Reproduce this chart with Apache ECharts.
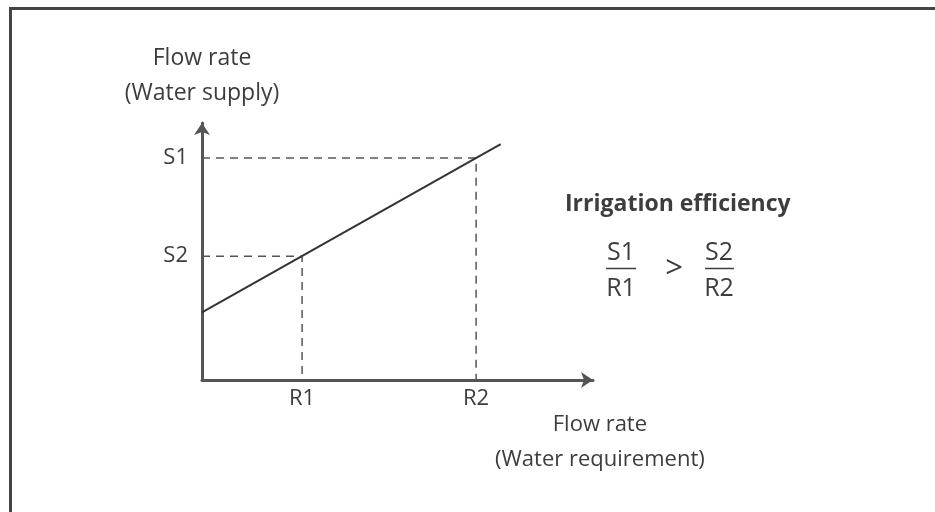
<!DOCTYPE html>
<html>
<head>
<meta charset="utf-8">
<script src="https://cdn.jsdelivr.net/npm/echarts@6/dist/echarts.min.js"></script>
<style>html,body{margin:0;padding:0;background:#fff}#c{width:935px;height:512px}</style>
</head>
<body>
<div id="c"></div>
<script>
// Values (abstract units on 0..100 scales)
var xTickValues = [25.6, 70.1];
var xTickLabels = ['R1', 'R2'];
var yTickValues = [48.2, 86.4];
var yTickLabels = ['S2', 'S1'];
var supplyX = [0, 76.4];
var supplyY = [26.3, 91.8];
var guideS1 = [[0, 86.4], [70.1, 86.4], [70.1, 0]];
var guideS2 = [[0, 48.2], [25.6, 48.2], [25.6, 0]];

var FONT = '"Open Sans", sans-serif';
var TXT = '#3d3d3d';
var AX = '#555555';

function lookup(vals, labels, v) {
  for (var i = 0; i < vals.length; i++) if (Math.abs(vals[i] - v) < 1e-6) return labels[i];
  return '';
}

var chart = echarts.init(document.getElementById('c'), null, {renderer: 'canvas'});
chart.setOption({
  animation: false,
  backgroundColor: '#ffffff',
  textStyle: {fontFamily: FONT},
  grid: {left: 202, top: 123, right: 342, bottom: 132, containLabel: false},
  xAxis: {
    type: 'value', min: 0, max: 100,
    name: 'Flow rate\n(Water requirement)',
    nameLocation: 'end', nameGap: -20,
    nameTextStyle: {fontFamily: FONT, fontSize: 22, color: TXT, align: 'center', verticalAlign: 'top', lineHeight: 35, padding: [27, 16, 0, 0]},
    splitLine: {show: false},
    axisTick: {show: false},
    axisLine: {show: true, lineStyle: {color: AX, width: 3}, symbol: ['none', 'arrow'], symbolSize: [12, 12]},
    axisLabel: {customValues: xTickValues, formatter: function (v) { return lookup(xTickValues, xTickLabels, v); }, fontFamily: FONT, fontSize: 22, color: TXT, margin: 8}
  },
  yAxis: {
    type: 'value', min: 0, max: 100,
    name: 'Flow rate\n(Water supply)',
    nameLocation: 'end', nameGap: 12,
    nameTextStyle: {fontFamily: FONT, fontSize: 23, color: TXT, align: 'center', lineHeight: 35},
    splitLine: {show: false},
    axisTick: {show: false},
    axisLine: {show: true, lineStyle: {color: AX, width: 3}, symbol: ['none', 'arrow'], symbolSize: [12, 12]},
    axisLabel: {customValues: yTickValues, formatter: function (v) { return lookup(yTickValues, yTickLabels, v); }, fontFamily: FONT, fontSize: 22, color: TXT, margin: 14}
  },
  series: [
    {type: 'line', data: guideS1, symbol: 'none', silent: true, lineStyle: {color: AX, width: 1.5, type: [8, 6]}},
    {type: 'line', data: guideS2, symbol: 'none', silent: true, lineStyle: {color: AX, width: 1.5, type: [8, 6]}},
    {type: 'line', data: [[supplyX[0], supplyY[0]], [supplyX[1], supplyY[1]]], symbol: 'none', lineStyle: {color: '#333333', width: 2}}
  ],
  graphic: [
    {type: 'polyline', shape: {points: [[10.5, 512], [10.5, 8.5], [935, 8.5]]}, style: {stroke: '#444444', lineWidth: 3, fill: null}},
    {type: 'text', x: 565, y: 204, style: {text: 'Irrigation efficiency', font: 'bold 23px ' + FONT, fill: TXT, verticalAlign: 'middle', align: 'left'}},
    {type: 'text', x: 621, y: 253, style: {text: 'S1', font: '25px ' + FONT, fill: TXT, align: 'center', verticalAlign: 'middle'}},
    {type: 'line', shape: {x1: 606, y1: 268.5, x2: 636, y2: 268.5}, style: {stroke: TXT, lineWidth: 1.5}},
    {type: 'text', x: 621, y: 289, style: {text: 'R1', font: '25px ' + FONT, fill: TXT, align: 'center', verticalAlign: 'middle'}},
    {type: 'text', x: 674, y: 269, style: {text: '>', font: '31px ' + FONT, fill: TXT, align: 'center', verticalAlign: 'middle'}},
    {type: 'text', x: 719, y: 253, style: {text: 'S2', font: '25px ' + FONT, fill: TXT, align: 'center', verticalAlign: 'middle'}},
    {type: 'line', shape: {x1: 705, y1: 268.5, x2: 734, y2: 268.5}, style: {stroke: TXT, lineWidth: 1.5}},
    {type: 'text', x: 719, y: 289, style: {text: 'R2', font: '25px ' + FONT, fill: TXT, align: 'center', verticalAlign: 'middle'}}
  ]
});
</script>
</body>
</html>
